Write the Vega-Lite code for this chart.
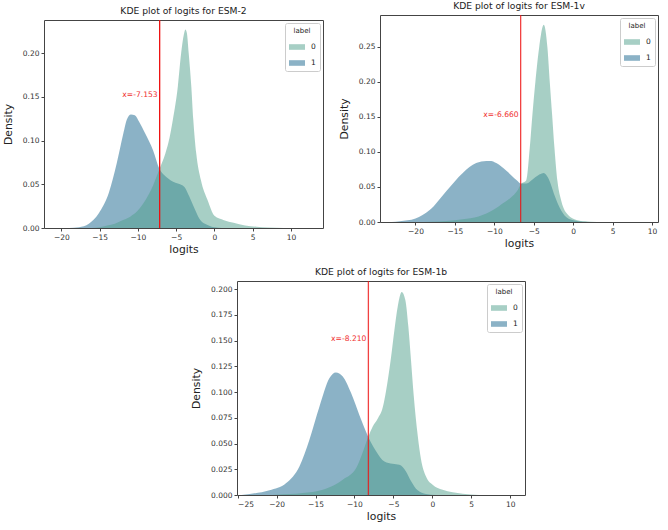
{
  "$schema": "https://vega.github.io/schema/vega-lite/v6.json",
  "padding": {"left": 1, "top": 0, "right": 0, "bottom": 0},
  "config": {
    "font": "DejaVu Sans",
    "view": {"stroke": "#444", "strokeWidth": 1},
    "axis": {"domain": false, "grid": false, "tickColor": "#444", "tickSize": 3, "labelFontSize": 7.5, "labelColor": "#333", "labelPadding": 2, "labelOverlap": false, "titleFontSize": 10.8, "titleFontWeight": "normal", "titleColor": "#222"},
    "axisX": {"titlePadding": 3},
    "axisY": {"titlePadding": 9},
    "title": {"fontSize": 9.2, "fontWeight": "normal", "color": "#222", "offset": 3},
    "legend": {"orient": "top-right", "offset": 3, "fillColor": "white", "strokeColor": "#ccc", "padding": 4, "cornerRadius": 2, "titleFontSize": 7, "titleFontWeight": "normal", "titleColor": "#222", "labelFontSize": 7.5, "labelColor": "#222", "symbolType": "M-1,-0.35H1V0.35H-1Z", "symbolSize": 256, "symbolOpacity": 0.5, "symbolStrokeWidth": 0, "titleAnchor": "middle", "rowPadding": 4, "labelOffset": 6}
  },
  "datasets": {
    "esm2": [
      {"label": "1", "logit": -19, "density": 0}, {"label": "1", "logit": -17.7, "density": 0.001}, {"label": "1", "logit": -16.4, "density": 0.005}, {"label": "1", "logit": -15.1, "density": 0.017}, {"label": "1", "logit": -13.8, "density": 0.04}, {"label": "1", "logit": -12.76, "density": 0.074}, {"label": "1", "logit": -11.9, "density": 0.108}, {"label": "1", "logit": -11.45, "density": 0.124}, {"label": "1", "logit": -10.9, "density": 0.13}, {"label": "1", "logit": -10.4, "density": 0.129}, {"label": "1", "logit": -9.8, "density": 0.121}, {"label": "1", "logit": -9.09, "density": 0.109}, {"label": "1", "logit": -8.02, "density": 0.089}, {"label": "1", "logit": -7.2, "density": 0.068}, {"label": "1", "logit": -6.5, "density": 0.06}, {"label": "1", "logit": -6.08, "density": 0.057}, {"label": "1", "logit": -5.4, "density": 0.053}, {"label": "1", "logit": -4.78, "density": 0.051}, {"label": "1", "logit": -3.92, "density": 0.047}, {"label": "1", "logit": -3.28, "density": 0.036}, {"label": "1", "logit": -2.63, "density": 0.023}, {"label": "1", "logit": -1.98, "density": 0.011}, {"label": "1", "logit": -0.9, "density": 0.0034}, {"label": "1", "logit": 0, "density": 0.0008}, {"label": "1", "logit": 1, "density": 0},
      {"label": "0", "logit": -16, "density": 0}, {"label": "0", "logit": -15, "density": 0.001}, {"label": "0", "logit": -14, "density": 0.003}, {"label": "0", "logit": -13, "density": 0.005}, {"label": "0", "logit": -12, "density": 0.009}, {"label": "0", "logit": -11, "density": 0.013}, {"label": "0", "logit": -10, "density": 0.02}, {"label": "0", "logit": -9, "density": 0.032}, {"label": "0", "logit": -8, "density": 0.049}, {"label": "0", "logit": -7.15, "density": 0.068}, {"label": "0", "logit": -6.42, "density": 0.085}, {"label": "0", "logit": -6, "density": 0.098}, {"label": "0", "logit": -5.43, "density": 0.124}, {"label": "0", "logit": -4.78, "density": 0.162}, {"label": "0", "logit": -4.35, "density": 0.2}, {"label": "0", "logit": -4.0, "density": 0.221}, {"label": "0", "logit": -3.79, "density": 0.227}, {"label": "0", "logit": -3.6, "density": 0.223}, {"label": "0", "logit": -3.36, "density": 0.2}, {"label": "0", "logit": -3.02, "density": 0.162}, {"label": "0", "logit": -2.76, "density": 0.124}, {"label": "0", "logit": -2.37, "density": 0.085}, {"label": "0", "logit": -1.77, "density": 0.055}, {"label": "0", "logit": -0.9, "density": 0.032}, {"label": "0", "logit": 0, "density": 0.014}, {"label": "0", "logit": 1.25, "density": 0.009}, {"label": "0", "logit": 2.5, "density": 0.006}, {"label": "0", "logit": 4, "density": 0.003}, {"label": "0", "logit": 5.5, "density": 0.0015}, {"label": "0", "logit": 7, "density": 0.0005}, {"label": "0", "logit": 9, "density": 0}
    ],
    "esm1v": [
      {"label": "1", "logit": -23, "density": 0}, {"label": "1", "logit": -22, "density": 0.001}, {"label": "1", "logit": -20, "density": 0.005}, {"label": "1", "logit": -18.2, "density": 0.017}, {"label": "1", "logit": -16.1, "density": 0.044}, {"label": "1", "logit": -14, "density": 0.07}, {"label": "1", "logit": -12.3, "density": 0.084}, {"label": "1", "logit": -11, "density": 0.087}, {"label": "1", "logit": -10.4, "density": 0.087}, {"label": "1", "logit": -9.75, "density": 0.084}, {"label": "1", "logit": -8.47, "density": 0.073}, {"label": "1", "logit": -7.2, "density": 0.06}, {"label": "1", "logit": -6.61, "density": 0.055}, {"label": "1", "logit": -5.93, "density": 0.055}, {"label": "1", "logit": -5, "density": 0.062}, {"label": "1", "logit": -4.24, "density": 0.068}, {"label": "1", "logit": -3.73, "density": 0.07}, {"label": "1", "logit": -3.18, "density": 0.063}, {"label": "1", "logit": -2.75, "density": 0.051}, {"label": "1", "logit": -2.33, "density": 0.037}, {"label": "1", "logit": -1.69, "density": 0.02}, {"label": "1", "logit": -0.85, "density": 0.0066}, {"label": "1", "logit": 0, "density": 0.0024}, {"label": "1", "logit": 1.27, "density": 0.0005}, {"label": "1", "logit": 2.5, "density": 0},
      {"label": "0", "logit": -20, "density": 0}, {"label": "0", "logit": -18, "density": 0.0005}, {"label": "0", "logit": -16, "density": 0.0015}, {"label": "0", "logit": -14, "density": 0.004}, {"label": "0", "logit": -12, "density": 0.008}, {"label": "0", "logit": -11, "density": 0.012}, {"label": "0", "logit": -10, "density": 0.018}, {"label": "0", "logit": -9, "density": 0.026}, {"label": "0", "logit": -8, "density": 0.034}, {"label": "0", "logit": -7, "density": 0.046}, {"label": "0", "logit": -6.61, "density": 0.054}, {"label": "0", "logit": -5.93, "density": 0.06}, {"label": "0", "logit": -5.51, "density": 0.105}, {"label": "0", "logit": -5.17, "density": 0.153}, {"label": "0", "logit": -4.79, "density": 0.2}, {"label": "0", "logit": -4.32, "density": 0.248}, {"label": "0", "logit": -3.73, "density": 0.281}, {"label": "0", "logit": -3.26, "density": 0.248}, {"label": "0", "logit": -2.97, "density": 0.2}, {"label": "0", "logit": -2.67, "density": 0.153}, {"label": "0", "logit": -2.37, "density": 0.105}, {"label": "0", "logit": -1.99, "density": 0.058}, {"label": "0", "logit": -1.48, "density": 0.029}, {"label": "0", "logit": -0.64, "density": 0.01}, {"label": "0", "logit": 0.42, "density": 0.003}, {"label": "0", "logit": 1.5, "density": 0.001}, {"label": "0", "logit": 3, "density": 0}
    ],
    "esm1b": [
      {"label": "1", "logit": -24.5, "density": 0}, {"label": "1", "logit": -23.46, "density": 0.001}, {"label": "1", "logit": -20.9, "density": 0.0045}, {"label": "1", "logit": -18.76, "density": 0.0116}, {"label": "1", "logit": -17.05, "density": 0.028}, {"label": "1", "logit": -15.77, "density": 0.054}, {"label": "1", "logit": -14.49, "density": 0.086}, {"label": "1", "logit": -13.2, "density": 0.1137}, {"label": "1", "logit": -12.39, "density": 0.119}, {"label": "1", "logit": -11.5, "density": 0.115}, {"label": "1", "logit": -10.43, "density": 0.099}, {"label": "1", "logit": -9.36, "density": 0.0775}, {"label": "1", "logit": -8.25, "density": 0.0569}, {"label": "1", "logit": -7.22, "density": 0.0426}, {"label": "1", "logit": -6.15, "density": 0.0326}, {"label": "1", "logit": -5.09, "density": 0.0304}, {"label": "1", "logit": -4.23, "density": 0.0294}, {"label": "1", "logit": -3.38, "density": 0.0229}, {"label": "1", "logit": -2.74, "density": 0.0136}, {"label": "1", "logit": -1.88, "density": 0.0045}, {"label": "1", "logit": -0.81, "density": 0.001}, {"label": "1", "logit": 0.5, "density": 0},
      {"label": "0", "logit": -21, "density": 0}, {"label": "0", "logit": -20.04, "density": 0.0003}, {"label": "0", "logit": -16.62, "density": 0.0019}, {"label": "0", "logit": -14.06, "density": 0.0052}, {"label": "0", "logit": -12.5, "density": 0.01}, {"label": "0", "logit": -11.5, "density": 0.0149}, {"label": "0", "logit": -9.79, "density": 0.026}, {"label": "0", "logit": -9, "density": 0.04}, {"label": "0", "logit": -8.25, "density": 0.056}, {"label": "0", "logit": -7.65, "density": 0.0665}, {"label": "0", "logit": -7.0, "density": 0.0743}, {"label": "0", "logit": -6.37, "density": 0.085}, {"label": "0", "logit": -5.73, "density": 0.111}, {"label": "0", "logit": -5.3, "density": 0.1338}, {"label": "0", "logit": -4.87, "density": 0.16}, {"label": "0", "logit": -4.44, "density": 0.183}, {"label": "0", "logit": -3.93, "density": 0.197}, {"label": "0", "logit": -3.46, "density": 0.189}, {"label": "0", "logit": -3.08, "density": 0.1635}, {"label": "0", "logit": -2.74, "density": 0.131}, {"label": "0", "logit": -2.39, "density": 0.0966}, {"label": "0", "logit": -1.88, "density": 0.058}, {"label": "0", "logit": -1.45, "density": 0.0345}, {"label": "0", "logit": -0.81, "density": 0.018}, {"label": "0", "logit": 0.04, "density": 0.01}, {"label": "0", "logit": 1.32, "density": 0.005}, {"label": "0", "logit": 3.89, "density": 0.0013}, {"label": "0", "logit": 6, "density": 0}
    ]
  },
  "resolve": {"scale": {"color": "independent"}, "legend": {"color": "independent"}},
  "spacing": 12,
  "vconcat": [
    {
      "resolve": {"scale": {"color": "independent"}, "legend": {"color": "independent"}},
      "spacing": 13,
      "hconcat": [
        {
          "resolve": {"scale": {"color": "independent"}, "legend": {"color": "independent"}},
          "spacing": 0,
          "vconcat": [
            {"data": {"values": []}, "mark": "point", "width": 10, "height": 6, "view": {"stroke": null}},
            {
              "width": 279, "height": 208,
              "title": "KDE plot of logits for ESM-2",
              "layer": [
                {"data": {"name": "esm2"}, "transform": [{"filter": "datum.label == '1'"}], "mark": {"type": "area", "fillOpacity": 0.5, "interpolate": "monotone"},
                 "encoding": {
                   "x": {"field": "logit", "type": "quantitative", "title": "logits", "scale": {"domain": [-22.26, 14.18], "nice": false, "zero": false}, "axis": {"values": [-20, -15, -10, -5, 0, 5, 10]}},
                   "y": {"field": "density", "type": "quantitative", "title": "Density", "stack": null, "scale": {"domain": [0, 0.238], "nice": false}, "axis": {"values": [0, 0.05, 0.1, 0.15, 0.2], "format": ".2f"}},
                   "color": {"field": "label", "type": "nominal", "title": "label", "scale": {"domain": ["0", "1"], "range": ["#4f9f8b", "#17668d"]}}
                 }},
                {"data": {"name": "esm2"}, "transform": [{"filter": "datum.label == '0'"}], "mark": {"type": "area", "fillOpacity": 0.5, "interpolate": "monotone"},
                 "encoding": {
                   "x": {"field": "logit", "type": "quantitative", "title": "logits"},
                   "y": {"field": "density", "type": "quantitative", "title": "Density", "stack": null},
                   "color": {"field": "label", "type": "nominal", "title": "label"}
                 }},
                {"data": {"values": [{"logit": -7.153}]}, "mark": {"type": "rule", "color": "#ee1111", "strokeWidth": 1.3},
                 "encoding": {"x": {"field": "logit", "type": "quantitative", "title": "logits"}}},
                {"data": {"values": [{"logit": -7.153, "density": 0.15, "note": "x=-7.153"}]}, "mark": {"type": "text", "color": "#f03030", "align": "right", "baseline": "alphabetic", "dx": -2, "fontSize": 7.6},
                 "encoding": {"x": {"field": "logit", "type": "quantitative", "title": "logits"}, "y": {"field": "density", "type": "quantitative", "title": "Density"}, "text": {"field": "note"}}}
              ]
            }
          ]
        },
        {
          "resolve": {"scale": {"color": "independent"}, "legend": {"color": "independent"}},
          "spacing": 0,
          "vconcat": [
            {"data": {"values": []}, "mark": "point", "width": 10, "height": 1, "view": {"stroke": null}},
            {
              "width": 278, "height": 207,
              "title": "KDE plot of logits for ESM-1v",
              "layer": [
                {"data": {"name": "esm1v"}, "transform": [{"filter": "datum.label == '1'"}], "mark": {"type": "area", "fillOpacity": 0.5, "interpolate": "monotone"},
                 "encoding": {
                   "x": {"field": "logit", "type": "quantitative", "title": "logits", "scale": {"domain": [-24.5, 10.76], "nice": false, "zero": false}, "axis": {"values": [-20, -15, -10, -5, 0, 5, 10]}},
                   "y": {"field": "density", "type": "quantitative", "title": "Density", "stack": null, "scale": {"domain": [0, 0.295], "nice": false}, "axis": {"values": [0, 0.05, 0.1, 0.15, 0.2, 0.25], "format": ".2f"}},
                   "color": {"field": "label", "type": "nominal", "title": "label", "scale": {"domain": ["0", "1"], "range": ["#4f9f8b", "#17668d"]}}
                 }},
                {"data": {"name": "esm1v"}, "transform": [{"filter": "datum.label == '0'"}], "mark": {"type": "area", "fillOpacity": 0.5, "interpolate": "monotone"},
                 "encoding": {
                   "x": {"field": "logit", "type": "quantitative", "title": "logits"},
                   "y": {"field": "density", "type": "quantitative", "title": "Density", "stack": null},
                   "color": {"field": "label", "type": "nominal", "title": "label"}
                 }},
                {"data": {"values": [{"logit": -6.66}]}, "mark": {"type": "rule", "color": "#ee1111", "strokeWidth": 1.3, "opacity": 0.8},
                 "encoding": {"x": {"field": "logit", "type": "quantitative", "title": "logits"}}},
                {"data": {"values": [{"logit": -6.66, "density": 0.15, "note": "x=-6.660"}]}, "mark": {"type": "text", "color": "#f03030", "align": "right", "baseline": "alphabetic", "dx": -2, "fontSize": 7.6},
                 "encoding": {"x": {"field": "logit", "type": "quantitative", "title": "logits"}, "y": {"field": "density", "type": "quantitative", "title": "Density"}, "text": {"field": "note"}}}
              ]
            }
          ]
        }
      ]
    },
    {
      "resolve": {"scale": {"color": "independent"}, "legend": {"color": "independent"}},
      "spacing": 0,
      "hconcat": [
        {"data": {"values": []}, "mark": "point", "width": 146, "height": 10, "view": {"stroke": null}},
        {
          "width": 288, "height": 214,
          "title": "KDE plot of logits for ESM-1b",
          "layer": [
            {"data": {"name": "esm1b"}, "transform": [{"filter": "datum.label == '1'"}], "mark": {"type": "area", "fillOpacity": 0.5, "interpolate": "monotone"},
             "encoding": {
               "x": {"field": "logit", "type": "quantitative", "title": "logits", "scale": {"domain": [-25.08, 11.9], "nice": false, "zero": false}, "axis": {"values": [-25, -20, -15, -10, -5, 0, 5, 10]}},
               "y": {"field": "density", "type": "quantitative", "title": "Density", "stack": null, "scale": {"domain": [0, 0.2078], "nice": false}, "axis": {"values": {"signal": "[0, 0.025, 0.05, 0.075, 0.1, 0.125, 0.15, 0.175, 0.2]"}, "tickCount": {"signal": "20"}, "format": ".3f", "labelOverlap": false}},
               "color": {"field": "label", "type": "nominal", "title": "label", "scale": {"domain": ["0", "1"], "range": ["#4f9f8b", "#17668d"]}}
             }},
            {"data": {"name": "esm1b"}, "transform": [{"filter": "datum.label == '0'"}], "mark": {"type": "area", "fillOpacity": 0.5, "interpolate": "monotone"},
             "encoding": {
               "x": {"field": "logit", "type": "quantitative", "title": "logits"},
               "y": {"field": "density", "type": "quantitative", "title": "Density", "stack": null},
               "color": {"field": "label", "type": "nominal", "title": "label"}
             }},
            {"data": {"values": [{"logit": -8.21}]}, "mark": {"type": "rule", "color": "#ee1111", "strokeWidth": 1.3, "opacity": 0.8},
             "encoding": {"x": {"field": "logit", "type": "quantitative", "title": "logits"}}},
            {"data": {"values": [{"logit": -8.21, "density": 0.15, "note": "x=-8.210"}]}, "mark": {"type": "text", "color": "#f03030", "align": "right", "baseline": "alphabetic", "dx": -2, "fontSize": 7.6},
             "encoding": {"x": {"field": "logit", "type": "quantitative", "title": "logits"}, "y": {"field": "density", "type": "quantitative", "title": "Density"}, "text": {"field": "note"}}}
          ]
        }
      ]
    }
  ]
}
